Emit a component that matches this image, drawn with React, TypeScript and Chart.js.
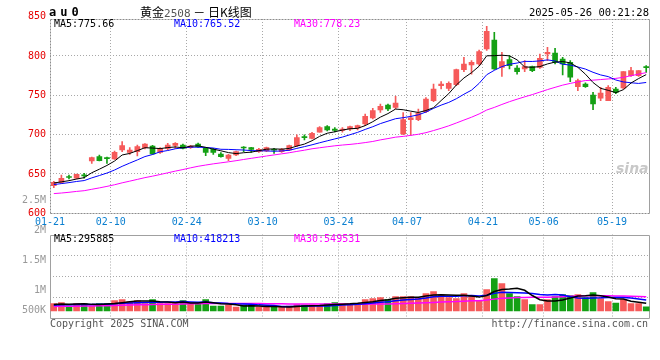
import React, { useEffect, useRef } from "react";
import { Chart, registerables } from "chart.js";

Chart.register(...registerables);

// ---------- data ----------
const dates = [
  "01-21", "01-22", "01-23", "01-24", "01-27",
  "02-05", "02-06", "02-07", "02-10", "02-11", "02-12", "02-13", "02-14",
  "02-17", "02-18", "02-19", "02-20", "02-21", "02-24", "02-25", "02-26", "02-27", "02-28",
  "03-03", "03-04", "03-05", "03-06", "03-07", "03-10", "03-11", "03-12", "03-13", "03-14",
  "03-17", "03-18", "03-19", "03-20", "03-21", "03-24", "03-25", "03-26", "03-27", "03-28", "03-31",
  "04-01", "04-02", "04-03", "04-07", "04-08", "04-09", "04-10", "04-11",
  "04-14", "04-15", "04-16", "04-17", "04-18", "04-21", "04-22", "04-23", "04-24", "04-25",
  "04-28", "04-29", "04-30",
  "05-06", "05-07", "05-08", "05-09", "05-12", "05-13", "05-14", "05-15", "05-16",
  "05-19", "05-20", "05-21", "05-22", "05-23",
];

const keyDates = ["01-21", "02-10", "02-24", "03-10", "03-24", "04-07", "04-21", "05-06", "05-19"];

const opens = [
  635.2, 639.4, 646.0, 644.5, 648.0, 666.5, 672.0, 670.0, 669.0, 680.5,
  677.5, 678.4, 683.5, 685.6, 677.5, 682.6, 686.4, 686.8, 683.5, 688.1,
  682.6, 681.3, 675.4, 669.9, 674.1, 683.5, 683.5, 678.4, 679.2, 680.5,
  678.4, 680.5, 686.0, 696.5, 695.3, 703.0, 710.1, 707.0, 705.5, 707.2,
  708.5, 713.5, 721.2, 731.3, 737.7, 734.7, 700.8, 719.0, 719.0, 729.2,
  743.2, 762.3, 758.9, 763.5, 782.6, 788.5, 789.8, 808.9, 820.3, 785.6,
  795.3, 784.7, 783.4, 786.4, 785.6, 802.5, 803.8, 796.2, 791.9, 761.0,
  764.4, 750.4, 746.2, 743.2, 758.0, 759.3, 775.0, 775.0, 785.6,
];
const highs = [
  640.5, 648.7, 648.7, 650.0, 650.8, 671.6, 674.1, 671.6, 679.2, 691.1,
  683.5, 686.8, 688.5, 686.5, 683.5, 689.0, 689.8, 688.1, 686.4, 689.4,
  683.9, 682.6, 677.1, 675.0, 679.2, 684.7, 683.9, 682.6, 684.3, 682.6,
  682.6, 686.8, 699.6, 699.6, 703.0, 710.1, 711.4, 709.0, 709.0, 711.0,
  712.0, 726.2, 733.4, 739.0, 739.0, 748.7, 728.0, 728.0, 732.6, 747.0,
  764.4, 767.3, 767.0, 783.4, 798.3, 794.0, 807.6, 837.7, 830.0, 804.6,
  800.4, 787.7, 794.0, 787.0, 802.5, 811.0, 809.7, 798.3, 794.0, 770.7,
  766.0, 753.8, 760.0, 762.3, 760.0, 780.0, 785.6, 781.5, 787.7,
];
const lows = [
  632.6, 638.0, 643.6, 643.6, 644.5, 663.5, 666.5, 663.5, 668.5, 678.4,
  675.0, 672.9, 681.8, 675.0, 676.2, 680.5, 682.6, 681.8, 682.6, 683.9,
  673.3, 675.0, 671.2, 667.0, 673.3, 678.4, 677.5, 677.5, 678.4, 676.2,
  677.5, 679.6, 684.7, 693.2, 694.5, 703.0, 704.7, 703.5, 703.0, 705.0,
  706.0, 711.4, 719.9, 728.4, 730.5, 732.6, 700.0, 699.0, 717.8, 728.0,
  742.0, 758.0, 756.0, 762.3, 780.0, 777.0, 788.0, 807.0, 783.0, 774.0,
  783.4, 777.0, 780.0, 780.0, 784.3, 794.0, 789.8, 775.8, 767.3, 755.9,
  760.0, 731.8, 743.2, 743.2, 752.0, 758.0, 774.0, 774.0, 779.0,
];
const closes = [
  639.4, 644.5, 645.5, 649.6, 647.5, 670.7, 667.0, 669.5, 677.5, 686.0,
  680.5, 684.7, 688.1, 675.4, 682.6, 686.8, 689.0, 682.6, 685.6, 684.7,
  677.5, 677.5, 672.0, 674.1, 678.4, 683.0, 681.3, 681.3, 683.5, 680.2,
  681.3, 686.0, 696.2, 696.2, 701.7, 708.9, 705.9, 705.5, 707.0, 710.1,
  711.4, 723.3, 730.5, 736.0, 732.6, 740.2, 719.0, 721.5, 727.5, 745.3,
  758.0, 764.4, 765.2, 782.6, 789.8, 791.9, 805.5, 831.3, 783.4, 792.8,
  787.7, 780.0, 786.4, 781.3, 797.0, 804.6, 791.9, 789.8, 772.9, 768.6,
  761.0, 739.0, 752.9, 760.1, 753.8, 780.0, 781.3, 781.3, 785.1,
];
// closes of the 29 sessions before 01-21 (estimated), only used for the averages
const priorCloses = [
  622, 618, 616, 620, 617, 614, 612, 615, 613, 616,
  618, 621, 619, 620, 622, 624, 623, 621, 625, 630,
  632, 633, 635, 636, 636.6, 637, 638, 639, 639,
];

const volumes = [
  288000, 326000, 186000, 288000, 288000, 186000, 288000, 288000, 403000, 442000,
  365000, 403000, 288000, 442000, 288000, 288000, 288000, 403000, 288000, 288000,
  442000, 186000, 186000, 224000, 147000, 224000, 224000, 147000, 147000, 147000,
  147000, 186000, 250000, 224000, 224000, 186000, 288000, 326000, 288000, 288000,
  288000, 442000, 480000, 518000, 442000, 557000, 557000, 557000, 518000, 672000,
  749000, 608000, 518000, 480000, 672000, 595000, 403000, 826000, 1248000, 1056000,
  672000, 557000, 442000, 250000, 250000, 442000, 557000, 634000, 595000, 634000,
  518000, 710000, 480000, 365000, 300000, 440000, 290000, 290000, 160000,
];
const priorVolumes = [
  140000, 150000, 130000, 160000, 145000, 155000, 150000, 135000, 165000, 150000,
  140000, 160000, 150000, 145000, 155000, 150000, 160000, 145000, 155000, 155000,
  190000, 210000, 185000, 205000, 210000, 230000, 250000, 235000, 245000,
];

const priceTicks = [600, 650, 700, 750, 800, 850];
const volTickValues = [500000, 1000000, 1500000, 2000000, 2500000];
const volTickLabels = ["500K", "1M", "1.5M", "2M", "2.5M"];

const headerTitle = "au0";
const headerTime = "2025-05-26 00:21:28";
const priceLegend = ["MA5:775.66", "MA10:765.52", "MA30:778.23"];
const volumeLegend = ["MA5:295885", "MA10:418213", "MA30:549531"];

// ---------- styles ----------
const UP = "#f65a5a";
const DOWN = "#14a014";
const MA_COLORS = ["#000000", "#0000ff", "#ff00ff"];
const MONO = "'DejaVu Sans Mono', 'Liberation Mono', monospace";
const GRID = "#a8a8a8";
const DOTS = [1, 2];

function movingAverage(series: number[], prior: number[], n: number): number[] {
  const all = prior.concat(series);
  return series.map((_, i) => {
    const end = prior.length + i;
    let s = 0;
    for (let k = end - n + 1; k <= end; k++) s += all[k];
    return s / n;
  });
}

const candleColors = closes.map((c, i) => (c > opens[i] ? UP : DOWN));

const gridColorX = (c: any) =>
  c.index !== undefined && c.index > 0 && keyDates.includes(dates[c.index]) ? GRID : "rgba(0,0,0,0)";

function makeFrame(dottedSides: string[]) {
  return {
    id: "frame",
    beforeDatasetsDraw(chart: any) {
      const { ctx, chartArea } = chart;
      const l = Math.round(chartArea.left) + 0.5;
      const r = Math.round(chartArea.right) - 0.5;
      const t = Math.round(chartArea.top) + 0.5;
      const b = Math.round(chartArea.bottom) + 0.5;
      const sides: Record<string, number[]> = {
        top: [l, t, r, t],
        bottom: [l, b, r, b],
        left: [l, t, l, b],
        right: [r, t, r, b],
      };
      ctx.save();
      ctx.lineWidth = 1;
      Object.keys(sides).forEach((k) => {
        const [x1, y1, x2, y2] = sides[k];
        const dotted = dottedSides.includes(k);
        ctx.strokeStyle = dotted ? "#8c8c8c" : "#a0a0a0";
        ctx.setLineDash(dotted ? [2, 1] : []);
        ctx.beginPath();
        ctx.moveTo(x1, y1);
        ctx.lineTo(x2, y2);
        ctx.stroke();
      });
      ctx.restore();
    },
  };
}

function lineDs(data: number[], color: string, width: number) {
  return {
    type: "line" as const,
    data,
    borderColor: color,
    borderWidth: width,
    pointRadius: 0,
    tension: 0,
    fill: false,
    order: 0,
  };
}

export default function App() {
  const mainRef = useRef<HTMLCanvasElement | null>(null);
  const volRef = useRef<HTMLCanvasElement | null>(null);

  useEffect(() => {
    const slot = 600 / dates.length;
    const ma5 = movingAverage(closes, priorCloses, 5);
    const ma10 = movingAverage(closes, priorCloses, 10);
    const ma30 = movingAverage(closes, priorCloses, 30);
    const vma5 = movingAverage(volumes, priorVolumes, 5);
    const vma10 = movingAverage(volumes, priorVolumes, 10);
    const vma30 = movingAverage(volumes, priorVolumes, 30);

    const main = new Chart(mainRef.current as HTMLCanvasElement, {
      type: "bar",
      data: {
        labels: dates,
        datasets: [
          lineDs(ma5, MA_COLORS[0], 1),
          lineDs(ma10, MA_COLORS[1], 1),
          lineDs(ma30, MA_COLORS[2], 1),
          {
            type: "bar",
            data: lows.map((l, i) => [l, highs[i]]),
            backgroundColor: candleColors,
            barThickness: 1,
            grouped: false,
            order: 2,
          } as any,
          {
            type: "bar",
            data: opens.map((o, i) => [o, closes[i]]),
            backgroundColor: candleColors,
            barThickness: 5,
            minBarLength: 1,
            grouped: false,
            order: 1,
          } as any,
        ],
      },
      options: {
        animation: false,
        responsive: false,
        maintainAspectRatio: false,
        events: [],
        layout: { padding: { top: 19, right: 10, left: 0, bottom: 0 } },
        plugins: { legend: { display: false }, tooltip: { enabled: false } },
        scales: {
          x: {
            offset: true,
            grid: { offset: true, color: gridColorX, drawTicks: false },
            border: { display: false, dash: DOTS },
            ticks: {
              autoSkip: false,
              maxRotation: 0,
              minRotation: 0,
              labelOffset: -slot / 2,
              padding: 3,
              color: "#0a7fd0",
              font: { family: MONO, size: 10 },
              callback: (_v: any, i: number) => (keyDates.includes(dates[i]) ? dates[i] : ""),
            },
            afterFit: (s: any) => {
              s.height = 18.7;
            },
          },
          y: {
            min: 600,
            max: 847,
            afterBuildTicks: (ax: any) => {
              ax.ticks = priceTicks.map((v) => ({ value: v }));
            },
            grid: {
              drawTicks: false,
              color: (c: any) =>
                c.tick && c.tick.value > 600 && c.tick.value < 840 ? GRID : "rgba(0,0,0,0)",
            },
            border: { display: false, dash: DOTS },
            ticks: {
              autoSkip: false,
              padding: 4,
              color: "#e60000",
              font: { family: MONO, size: 10 },
            },
            afterFit: (s: any) => {
              s.width = 50;
            },
          },
        },
      } as any,
      plugins: [makeFrame(["top", "left", "bottom"])],
    });

    const vol = new Chart(volRef.current as HTMLCanvasElement, {
      type: "bar",
      data: {
        labels: dates,
        datasets: [
          { ...lineDs(vma5, MA_COLORS[0], 1.5), yAxisID: "y" },
          { ...lineDs(vma10, MA_COLORS[1], 1.5), yAxisID: "y" },
          { ...lineDs(vma30, MA_COLORS[2], 1.5), yAxisID: "y" },
          {
            type: "bar",
            data: volumes,
            backgroundColor: candleColors,
            barThickness: 6,
            order: 1,
            yAxisID: "y",
          } as any,
        ],
      },
      options: {
        animation: false,
        responsive: false,
        maintainAspectRatio: false,
        events: [],
        layout: { padding: { top: 44.5, right: 10, left: 0, bottom: 41.7 } },
        plugins: { legend: { display: false }, tooltip: { enabled: false } },
        scales: {
          x: {
            offset: true,
            grid: { offset: true, color: gridColorX, drawTicks: false },
            border: { display: false, dash: DOTS },
            ticks: { display: false },
            afterFit: (s: any) => {
              s.height = 0;
            },
          },
          y: {
            position: "right",
            min: -280000,
            max: 2938000,
            afterBuildTicks: (ax: any) => {
              const step = (ax.max - ax.min) / 4;
              ax.ticks = [1, 2, 3].map((k) => ({ value: ax.min + k * step }));
            },
            grid: { color: GRID, drawTicks: false },
            border: { display: false, dash: DOTS },
            ticks: { display: false },
            afterFit: (s: any) => {
              s.width = 0;
            },
          },
          yl: {
            position: "left",
            min: 528000,
            max: 1925000,
            afterBuildTicks: (ax: any) => {
              const floor = ax.min + 0.093 * (ax.max - ax.min);
              ax.ticks = volTickValues.map((v) => ({ value: Math.max(v, floor) }));
            },
            grid: { display: false, drawTicks: false },
            border: { display: false },
            ticks: {
              autoSkip: false,
              padding: 4,
              color: "#999999",
              font: { family: MONO, size: 10 },
              callback: (_v: any, i: number) => volTickLabels[i],
            },
            afterFit: (s: any) => {
              s.width = 50;
            },
          },
        },
      } as any,
      plugins: [makeFrame([])],
    });

    return () => {
      main.destroy();
      vol.destroy();
    };
  }, []);

  const text = (
    content: React.ReactNode,
    left: number | undefined,
    top: number,
    color: string,
    extra: React.CSSProperties = {}
  ) => (
    <div
      style={{
        position: "absolute",
        left,
        top,
        color,
        fontFamily: MONO,
        fontSize: 10,
        lineHeight: "12px",
        whiteSpace: "nowrap",
        pointerEvents: "none",
        ...extra,
      }}
    >
      {content}
    </div>
  );

  return (
    <div
      style={{
        position: "absolute",
        left: 0,
        top: 0,
        width: 660,
        height: 360,
        background: "#ffffff",
        overflow: "hidden",
      }}
    >
      <canvas
        ref={mainRef}
        width={660}
        height={232}
        style={{ position: "absolute", left: 0, top: 0, width: 660, height: 232 }}
      />
      <canvas
        ref={volRef}
        width={660}
        height={170}
        style={{ position: "absolute", left: 0, top: 190, width: 660, height: 170 }}
      />
      {text(headerTitle, 49, 6, "#000", { fontWeight: "bold", fontSize: 12, letterSpacing: 4 })}
      {text(
        <span>
          黄金<span style={{ color: "#555", fontFamily: MONO, fontSize: 11 }}>2508</span> － 日K线图
        </span>,
        140,
        5,
        "#000",
        { fontFamily: "'Noto Sans CJK SC', sans-serif", fontSize: 12, lineHeight: "14px" }
      )}
      {text(headerTime, undefined, 6, "#000", { right: 11, fontSize: 10.5 })}
      {text(priceLegend[0], 54, 18, MA_COLORS[0])}
      {text(priceLegend[1], 174, 18, MA_COLORS[1])}
      {text(priceLegend[2], 294, 18, MA_COLORS[2])}
      {text(volumeLegend[0], 54, 233, MA_COLORS[0])}
      {text(volumeLegend[1], 174, 233, MA_COLORS[1])}
      {text(volumeLegend[2], 294, 233, MA_COLORS[2])}
      {text("sina", 616, 160, "#c8c8c8", {
        fontFamily: "'DejaVu Sans', sans-serif",
        fontStyle: "italic",
        fontWeight: "bold",
        fontSize: 14,
        lineHeight: "16px",
      })}
      {text("Copyright 2025 SINA.COM", 50, 318, "#555")}
      {text("http://finance.sina.com.cn", undefined, 318, "#555", { right: 12 })}
    </div>
  );
}
